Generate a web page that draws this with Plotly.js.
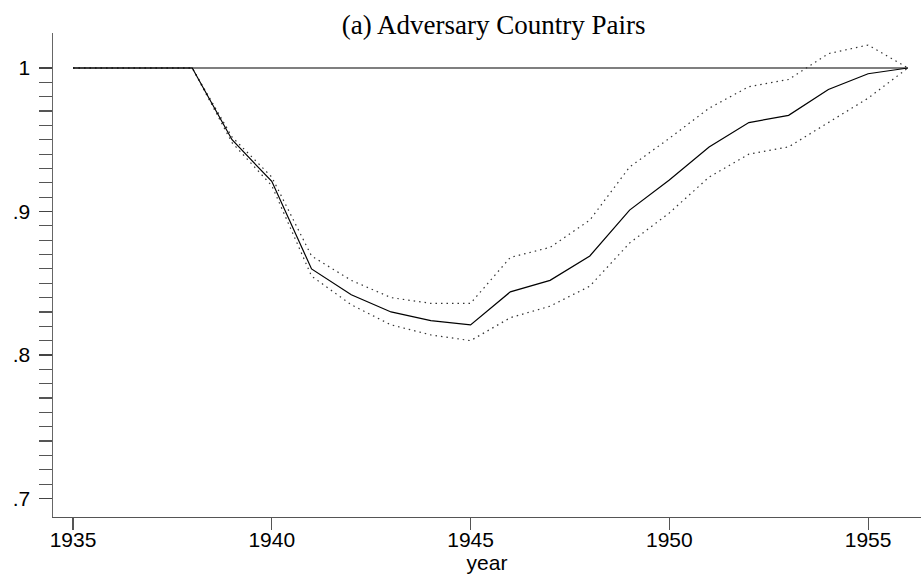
<!DOCTYPE html>
<html>
<head>
<meta charset="utf-8">
<script src="https://cdn.plot.ly/plotly-3.0.1.min.js"></script>
<style>html,body{margin:0;padding:0;background:#fff;}#chart{width:921px;height:577px;}</style>
</head>
<body>
<div id="chart"></div>
<script>
var years = [1935,1936,1937,1938,1939,1940,1941,1942,1943,1944,1945,1946,1947,1948,1949,1950,1951,1952,1953,1954,1955,1956];
var estimate = [1,1,1,1,0.950,0.921,0.860,0.842,0.830,0.824,0.821,0.844,0.852,0.869,0.901,0.922,0.945,0.962,0.967,0.985,0.996,1];
var upperCI = [1,1,1,1,0.952,0.924,0.869,0.852,0.840,0.836,0.836,0.868,0.875,0.894,0.931,0.951,0.972,0.987,0.992,1.010,1.016,1];
var lowerCI = [1,1,1,1,0.948,0.918,0.855,0.835,0.821,0.814,0.810,0.826,0.834,0.848,0.878,0.899,0.924,0.940,0.945,0.962,0.979,1];
var refX = [1935, 1956];
var refY = [1, 1];
var xTickVals = [1935,1940,1945,1950,1955];
var yTickVals = [0.7,0.8,0.9,1];
var yTickText = ['.7','.8','.9','1'];
var yMinorVals = [0.71,0.72,0.73,0.74,0.75,0.76,0.77,0.78,0.79,0.81,0.82,0.83,0.84,0.85,0.86,0.87,0.88,0.89,0.91,0.92,0.93,0.94,0.95,0.96,0.97,0.98,0.99];

var dotDash = '1.5px,4px';
var traces = [
  {x: refX, y: refY, mode: 'lines', line: {color: '#000', width: 1.2}, hoverinfo: 'skip'},
  {x: years, y: upperCI, mode: 'lines', line: {color: '#333', width: 1.2, dash: dotDash}},
  {x: years, y: lowerCI, mode: 'lines', line: {color: '#333', width: 1.2, dash: dotDash}},
  {x: years, y: estimate, mode: 'lines', line: {color: '#000', width: 1.2}}
];

var layout = {
  width: 921, height: 577,
  paper_bgcolor: '#fff', plot_bgcolor: '#fff',
  showlegend: false,
  margin: {l: 53, r: 0, t: 33, b: 60},
  title: {
    text: '(a) Adversary Country Pairs',
    font: {family: 'Liberation Serif, Times New Roman, serif', size: 27, color: '#000'},
    xref: 'container', x: 0.536, xanchor: 'center',
    yref: 'container', y: 0.958, yanchor: 'middle'
  },
  xaxis: {
    range: [1934.497, 1956.33],
    showgrid: false, zeroline: false,
    showline: true, linecolor: '#555', linewidth: 1.2,
    ticks: 'outside', ticklen: 12, tickcolor: '#555', tickwidth: 1.2,
    tickmode: 'array', tickvals: xTickVals,
    ticklabelstandoff: -8,
    tickfont: {family: 'Liberation Sans, Arial, sans-serif', size: 21, color: '#000'},
    title: {text: 'year', font: {family: 'Liberation Sans, Arial, sans-serif', size: 21, color: '#000'}, standoff: 0}
  },
  yaxis: {
    range: [0.6871, 1.0244],
    showgrid: false, zeroline: false,
    showline: true, linecolor: '#666', linewidth: 1.5,
    ticks: 'outside', ticklen: 13, tickcolor: '#444', tickwidth: 1.2,
    tickmode: 'array', tickvals: yTickVals, ticktext: yTickText,
    ticklabelstandoff: 4,
    tickfont: {family: 'Liberation Sans, Arial, sans-serif', size: 21, color: '#000'},
    minor: {tickmode: 'array', tickvals: yMinorVals, ticks: 'outside', ticklen: 13, tickcolor: '#555', tickwidth: 1.2, showgrid: false}
  }
};

Plotly.newPlot('chart', traces, layout, {staticPlot: true, displayModeBar: false});
</script>
</body>
</html>
